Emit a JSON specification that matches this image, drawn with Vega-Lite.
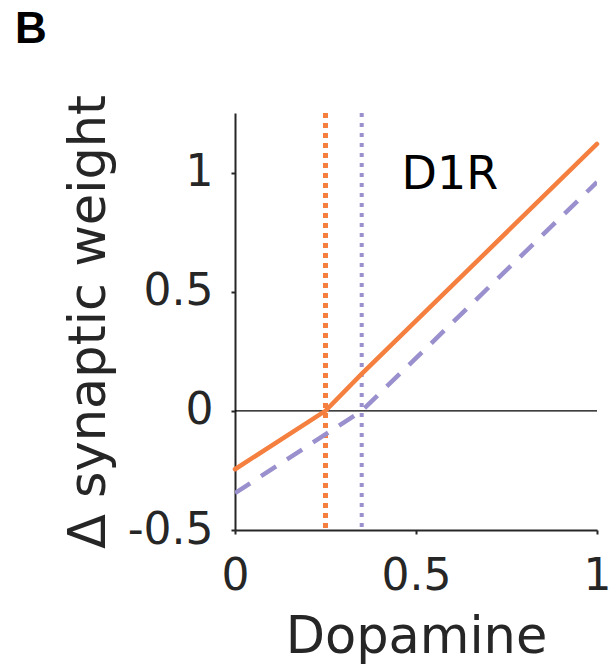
{
  "$schema": "https://vega.github.io/schema/vega-lite/v6.json",
  "width": 362,
  "height": 417,
  "autosize": {"type": "none"},
  "padding": {"left": 235, "top": 113, "right": 13, "bottom": 140},
  "background": "white",
  "title": {
    "text": "B",
    "anchor": "start",
    "frame": "group",
    "orient": "top",
    "baseline": "alphabetic",
    "offset": 7,
    "dx": -220,
    "font": "Liberation Sans",
    "fontSize": 44,
    "fontWeight": "bold",
    "color": "black"
  },
  "datasets": {
    "curves": [
      {"series": "control", "dopamine": 0, "dw": -0.245},
      {"series": "control", "dopamine": 0.25, "dw": 0},
      {"series": "control", "dopamine": 0.35, "dw": 0.155},
      {"series": "control", "dopamine": 1, "dw": 1.12},
      {"series": "shifted", "dopamine": 0, "dw": -0.345},
      {"series": "shifted", "dopamine": 0.35, "dw": 0},
      {"series": "shifted", "dopamine": 1, "dw": 0.96}
    ],
    "thresholds": [
      {"series": "control", "dopamine": 0.25},
      {"series": "shifted", "dopamine": 0.35}
    ],
    "zero": [{"dw": 0}],
    "labels": [{"dopamine": 0.46, "dw": 0.93, "text": "D1R"}]
  },
  "layer": [
    {
      "data": {"name": "zero"},
      "mark": {"type": "rule", "color": "black", "strokeWidth": 1.2},
      "encoding": {"y": {"field": "dw", "type": "quantitative", "scale": {"domain": [-0.5, 1.25], "nice": false, "zero": false}}}
    },
    {
      "data": {"name": "thresholds"},
      "transform": [{"filter": "datum.series == 'control'"}],
      "mark": {"type": "rule", "color": "#F47F3E", "strokeWidth": 5, "strokeDash": [5, 5]},
      "encoding": {"x": {"field": "dopamine", "type": "quantitative"}}
    },
    {
      "data": {"name": "thresholds"},
      "transform": [{"filter": "datum.series == 'shifted'"}],
      "mark": {"type": "rule", "color": "#9B90CE", "strokeWidth": 4, "strokeDash": [4, 6]},
      "encoding": {"x": {"field": "dopamine", "type": "quantitative"}}
    },
    {
      "data": {"name": "curves"},
      "transform": [{"filter": "datum.series == 'shifted'"}],
      "mark": {"type": "line", "color": "#9B90CE", "strokeWidth": 4.5, "strokeDash": [18, 13], "clip": true},
      "encoding": {
        "x": {"field": "dopamine", "type": "quantitative"},
        "y": {"field": "dw", "type": "quantitative"}
      }
    },
    {
      "data": {"name": "curves"},
      "transform": [{"filter": "datum.series == 'control'"}],
      "mark": {"type": "line", "color": "#F47F3E", "strokeWidth": 4.5, "strokeCap": "round"},
      "encoding": {
        "x": {
          "field": "dopamine", "type": "quantitative",
          "scale": {"domain": [0, 1], "nice": false, "zero": false},
          "axis": {
            "title": "Dopamine",
            "values": [0, 0.5, 1],
            "labelExpr": "'' + datum.value",
            "grid": false,
            "tickSize": 4,
            "labelPadding": 20,
            "titlePadding": 14
          }
        },
        "y": {
          "field": "dw", "type": "quantitative",
          "scale": {"domain": [-0.5, 1.25], "nice": false, "zero": false},
          "axis": {
            "title": "Δ synaptic weight",
            "values": [-0.5, 0, 0.5, 1],
            "labelExpr": "'' + datum.value",
            "grid": false,
            "tickSize": 4,
            "labelPadding": 18,
            "titlePadding": 12
          }
        }
      }
    },
    {
      "data": {"name": "labels"},
      "mark": {"type": "text", "align": "left", "baseline": "alphabetic", "font": "DejaVu Sans", "fontSize": 46, "color": "black"},
      "encoding": {
        "x": {"field": "dopamine", "type": "quantitative"},
        "y": {"field": "dw", "type": "quantitative"},
        "text": {"field": "text"}
      }
    }
  ],
  "config": {
    "view": {"stroke": null},
    "axis": {
      "domainColor": "#262626",
      "domainWidth": 2,
      "tickColor": "#262626",
      "tickWidth": 2,
      "labelColor": "#262626",
      "labelFont": "DejaVu Sans",
      "labelFontSize": 44,
      "titleColor": "#262626",
      "titleFont": "DejaVu Sans",
      "titleFontSize": 51,
      "titleFontWeight": "normal",
      "labelFlush": false,
      "labelOverlap": false
    }
  }
}
